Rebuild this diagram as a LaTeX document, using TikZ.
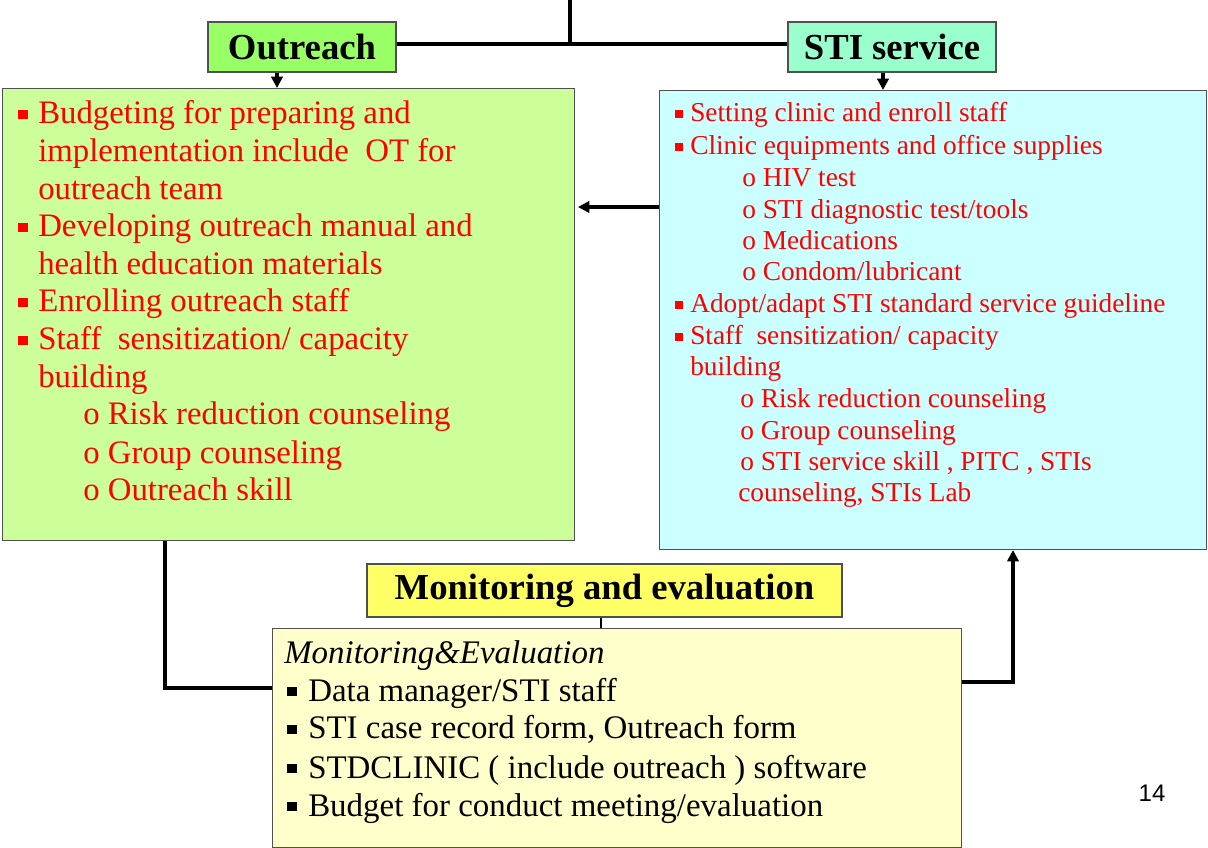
\documentclass[tikz,border=0pt]{standalone}
\usepackage{fontspec}
\setmainfont{Liberation Serif}
\newfontfamily\arialf{Liberation Sans}
\usetikzlibrary{arrows.meta}
\definecolor{ttlgreen}{HTML}{99FF66}
\definecolor{ttlaqua}{HTML}{99FFCC}
\definecolor{boxgreen}{HTML}{CCFF99}
\definecolor{boxcyan}{HTML}{CCFFFF}
\definecolor{ttlyellow}{HTML}{FFFF66}
\definecolor{boxyellow}{HTML}{FFFFCC}
\definecolor{edgegray}{HTML}{505050}
\newcommand\sqbul{\rule[0.15em]{0.29em}{0.29em}}
\tikzset{
  panel/.style={draw=edgegray, line width=0.8pt, inner sep=0pt, anchor=north west},
  ttl/.style={draw=edgegray, line width=0.8pt, inner sep=0pt, font=\fontsize{27.5}{33}\selectfont\bfseries},
  gline/.style={anchor=base west, inner sep=0pt, text=red, font=\fontsize{24.6}{29}\selectfont},
  cline/.style={anchor=base west, inner sep=0pt, text=red, font=\fontsize{20.5}{24}\selectfont},
  yline/.style={anchor=base west, inner sep=0pt, text=black, font=\fontsize{24.7}{29}\selectfont},
  conn/.style={line width=2.8pt, black},
  arr/.style={conn, -{Triangle[length=8.5pt,width=8.5pt]}},
}
\begin{document}
\begin{tikzpicture}[x=0.75pt,y=-0.75pt]
\useasboundingbox (0,0) rectangle (1208,848);
% boxes
\node[ttl, fill=ttlgreen, minimum width=141pt, minimum height=37.5pt] (outreach) at (302,47) {Outreach};
\node[ttl, fill=ttlaqua, minimum width=156pt, minimum height=37.5pt] (sti) at (892,47) {STI service};
\node[panel, fill=boxgreen, minimum width=429pt, minimum height=339pt] (gbox) at (2,88) {};
\node[panel, fill=boxcyan, minimum width=410.5pt, minimum height=344.25pt] (cbox) at (659,90) {};
\node[ttl, fill=ttlyellow, minimum width=356.25pt, minimum height=39.75pt] (metitle) at (604.5,590.5) {Monitoring and evaluation};
\node[panel, fill=boxyellow, minimum width=516.75pt, minimum height=164pt] (mebox) at (272,628) {};
% left box text
\node[gline] (l1) at (18,124) {\makebox[15pt][l]{\sqbul}Budgeting for preparing and};
\node[gline] (l2) at (38,162) {implementation include~ OT for};
\node[gline] (l3) at (38,200) {outreach team};
\node[gline] (l4) at (18,237) {\makebox[15pt][l]{\sqbul}Developing outreach manual and};
\node[gline] (l5) at (38,275) {health education materials};
\node[gline] (l6) at (18,312) {\makebox[15pt][l]{\sqbul}Enrolling outreach staff};
\node[gline] (l7) at (18,350) {\makebox[15pt][l]{\sqbul}Staff~ sensitization/ capacity};
\node[gline] (l8) at (38,388) {building};
\node[gline] (l9) at (83,425) {o Risk reduction counseling};
\node[gline] (l10) at (83,464) {o Group counseling};
\node[gline] (l11) at (83,501) {o Outreach skill};
% right box text
\node[cline] (r1) at (675,122) {\makebox[11.25pt][l]{\sqbul}Setting clinic and enroll staff};
\node[cline] (r2) at (675,155) {\makebox[11.25pt][l]{\sqbul}Clinic equipments and office supplies};
\node[cline] (r3) at (742,187) {o HIV test};
\node[cline] (r4) at (742,219) {o STI diagnostic test/tools};
\node[cline] (r5) at (742,250) {o Medications};
\node[cline] (r6) at (742,281) {o Condom/lubricant};
\node[cline] (r7) at (675,313) {\makebox[11.25pt][l]{\sqbul}Adopt/adapt STI standard service guideline};
\node[cline] (r8) at (675,345) {\makebox[11.25pt][l]{\sqbul}Staff~ sensitization/ capacity};
\node[cline] (r9) at (690,376) {building};
\node[cline] (r10) at (740,408) {o Risk reduction counseling};
\node[cline] (r11) at (740,440) {o Group counseling};
\node[cline] (r12) at (740,471) {o STI service skill , PITC , STIs};
\node[cline] (r13) at (738,502) {counseling, STIs Lab};
% bottom box text
\node[yline] (b0) at (284,663) {\itshape Monitoring\&Evaluation};
\node[yline] (b1) at (287,701) {\makebox[15.75pt][l]{\sqbul}Data manager/STI staff};
\node[yline] (b2) at (287,739) {\makebox[15.75pt][l]{\sqbul}STI case record form, Outreach form};
\node[yline] (b3) at (287,778) {\makebox[15.75pt][l]{\sqbul}STDCLINIC ( include outreach ) software};
\node[yline] (b4) at (287,816) {\makebox[15.75pt][l]{\sqbul}Budget for conduct meeting/evaluation};
% page number
\node[anchor=base, inner sep=0pt, font=\arialf\fontsize{18}{21}\selectfont] (pnum) at (1152,801) {14};
% helper coordinates
\coordinate (topc) at (570,0);
\coordinate (hy) at (0,44);
\coordinate (ax1) at (277,0);
\coordinate (ax2) at (883,0);
\coordinate (midy) at (0,207);
\coordinate (tipl) at (578,207);
\coordinate (gx) at (165,0);
\coordinate (gy) at (0,688);
\coordinate (ry) at (0,682);
\coordinate (rx) at (1013,0);
\coordinate (mx) at (601,0);
% connectors
\draw[conn] (topc) -- (topc |- hy);
\draw[conn] (outreach.east |- hy) -- (sti.west |- hy);
\draw[arr] (outreach.south -| ax1) -- (gbox.north -| ax1);
\draw[arr] (sti.south -| ax2) -- (cbox.north -| ax2);
\draw[arr] (cbox.west |- midy) -- (tipl);
\draw[conn] (gbox.south -| gx) |- (mebox.west |- gy);
\draw[arr] (mebox.east |- ry) -| (cbox.south -| rx);
\draw[line width=1.4pt] (metitle.south -| mx) -- (mebox.north -| mx);
\end{tikzpicture}
\end{document}
